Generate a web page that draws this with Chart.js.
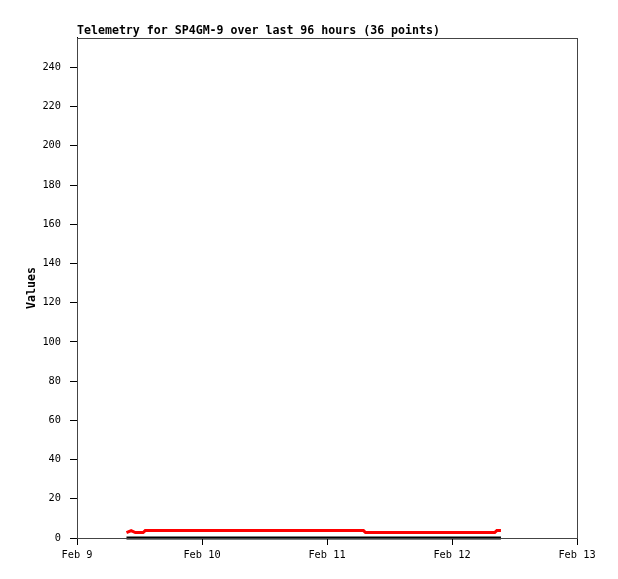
<!DOCTYPE html>
<html lang="en">
<head>
    <meta charset="UTF-8">
    <title>Telemetry for SP4GM-9</title>
    <script src="https://cdn.jsdelivr.net/npm/chart.js@4.4.0/dist/chart.umd.min.js"></script>
    <style>
        body {
            margin: 0;
            padding: 0;
            background: #ffffff;
        }

        .chart-container {
            position: relative;
            width: 618px;
            height: 579px;
        }
    </style>
</head>
<body>
<div class="chart-container">
    <canvas id="telemetryChart"></canvas>
</div>

<script>
    // hours since Feb 9 00:00
    const hours = [
        9.5, 10.4, 11.2, 12.7, 13.1, 15.2, 17.2, 19.3, 21.3, 23.4,
        25.4, 27.5, 29.5, 31.6, 33.6, 35.7, 37.7, 39.8, 41.8, 43.9,
        45.9, 48.0, 50.0, 52.1, 55.0, 55.4, 57.8, 60.0, 62.1, 64.2,
        66.3, 68.4, 70.5, 80.2, 80.6, 81.4
    ];
    const redValues = [
        2.8, 3.8, 2.8, 2.8, 3.8, 3.8, 3.8, 3.8, 3.8, 3.8,
        3.8, 3.8, 3.8, 3.8, 3.8, 3.8, 3.8, 3.8, 3.8, 3.8,
        3.8, 3.8, 3.8, 3.8, 3.8, 2.8, 2.8, 2.8, 2.8, 2.8,
        2.8, 2.8, 2.8, 2.8, 3.8, 3.8
    ];
    const blackValues = [
        0, 0, 0, 0, 0, 0, 0, 0, 0, 0,
        0, 0, 0, 0, 0, 0, 0, 0, 0, 0,
        0, 0, 0, 0, 0, 0, 0, 0, 0, 0,
        0, 0, 0, 0, 0, 0
    ];
    const xTickLabels = ['Feb 9', 'Feb 10', 'Feb 11', 'Feb 12', 'Feb 13'];

    const toPoints = (vals) => hours.map((h, i) => ({ x: h, y: vals[i] }));

    const mono = "'DejaVu Sans Mono', 'Liberation Mono', monospace";

    // frame around plot area
    const framePlugin = {
        id: 'frame',
        afterDraw(chart) {
            const a = chart.chartArea;
            const ctx = chart.ctx;
            ctx.save();
            ctx.strokeStyle = '#444444';
            ctx.lineWidth = 1;
            ctx.strokeRect(Math.round(a.left) + 0.5, Math.round(a.top) + 0.5,
                Math.round(a.right - a.left), Math.round(a.bottom - a.top));
            ctx.restore();
        }
    };

    const ctx = document.getElementById('telemetryChart').getContext('2d');
    new Chart(ctx, {
        type: 'line',
        data: {
            datasets: [
                {
                    label: 'ch1',
                    data: toPoints(redValues),
                    borderColor: '#ff0000',
                    borderWidth: 3,
                    borderJoinStyle: 'miter',
                    pointRadius: 0,
                    tension: 0,
                    clip: 4,
                    order: 1
                },
                {
                    label: 'ch2',
                    data: toPoints(blackValues),
                    borderColor: '#000000',
                    borderWidth: 3,
                    pointRadius: 0,
                    tension: 0,
                    clip: 4,
                    order: 2
                }
            ]
        },
        options: {
            responsive: true,
            maintainAspectRatio: false,
            animation: false,
            layout: {
                padding: { left: 0, right: 41, top: 0, bottom: 0 }
            },
            plugins: {
                legend: { display: false },
                tooltip: { enabled: false },
                title: {
                    display: true,
                    text: 'Telemetry for SP4GM-9 over last 96 hours (36 points)',
                    align: 'start',
                    fullSize: false,
                    color: '#000000',
                    font: { family: mono, size: 11.6, weight: 'bold' },
                    padding: { top: 24, bottom: 0 }
                }
            },
            scales: {
                x: {
                    type: 'linear',
                    min: 0,
                    max: 96,
                    afterFit(scale) { scale.height = 41; },
                    border: { display: true, color: '#000000', width: 1 },
                    grid: {
                        drawOnChartArea: false,
                        drawTicks: true,
                        tickLength: 7,
                        color: '#000000'
                    },
                    ticks: {
                        stepSize: 24,
                        maxRotation: 0,
                        autoSkip: false,
                        padding: 4,
                        color: '#000000',
                        font: { family: mono, size: 10.3 },
                        callback: (v) => xTickLabels[Math.round(v / 24)]
                    }
                },
                y: {
                    type: 'linear',
                    min: 0,
                    max: 255,
                    afterFit(scale) { scale.width = 77; },
                    border: { display: true, color: '#000000', width: 1 },
                    grid: {
                        drawOnChartArea: false,
                        drawTicks: true,
                        tickLength: 7,
                        color: '#000000'
                    },
                    ticks: {
                        stepSize: 20,
                        includeBounds: false,
                        padding: 9,
                        color: '#000000',
                        font: { family: mono, size: 10.3 }
                    },
                    title: {
                        display: true,
                        text: 'Values',
                        color: '#000000',
                        font: { family: mono, size: 11.6, weight: 'bold' },
                        padding: { top: 25, bottom: 0 }
                    }
                }
            }
        },
        plugins: [framePlugin]
    });
</script>
</body>
</html>
